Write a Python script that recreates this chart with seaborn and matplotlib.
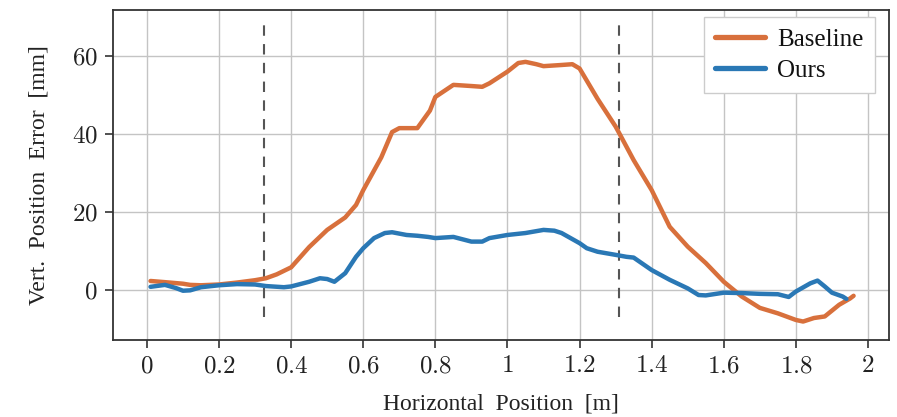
import matplotlib
matplotlib.use("Agg")
import matplotlib.pyplot as plt
import seaborn as sns
import pandas as pd

# ---- data ----
baseline_x = [0.01, 0.05, 0.10, 0.12, 0.15, 0.20, 0.25, 0.30, 0.33, 0.36, 0.40, 0.45, 0.50,
              0.55, 0.58, 0.60, 0.65, 0.68, 0.70, 0.75, 0.785, 0.80, 0.85, 0.90, 0.93, 0.95,
              1.00, 1.03, 1.05, 1.08, 1.10, 1.15, 1.18, 1.20, 1.25, 1.30, 1.31, 1.35, 1.40,
              1.45, 1.50, 1.55, 1.60, 1.65, 1.70, 1.75, 1.80, 1.82, 1.85, 1.88, 1.92, 1.95, 1.96]
baseline_y = [2.3, 2.0, 1.6, 1.3, 1.2, 1.4, 1.9, 2.5, 3.0, 4.0, 5.8, 11.0, 15.4,
              18.6, 21.8, 25.6, 34.0, 40.5, 41.5, 41.5, 46.0, 49.5, 52.6, 52.3, 52.1, 53.0,
              56.0, 58.2, 58.5, 57.9, 57.4, 57.7, 57.9, 56.8, 49.0, 41.9, 40.2, 33.3, 25.6,
              16.2, 11.1, 6.9, 2.1, -1.7, -4.6, -6.0, -7.7, -8.1, -7.2, -6.8, -3.8, -2.2, -1.5]

ours_x = [0.01, 0.05, 0.08, 0.10, 0.12, 0.15, 0.20, 0.25, 0.30, 0.33, 0.38, 0.40, 0.45,
          0.48, 0.50, 0.52, 0.55, 0.58, 0.60, 0.63, 0.66, 0.68, 0.72, 0.75, 0.78, 0.80,
          0.85, 0.90, 0.93, 0.95, 1.00, 1.05, 1.10, 1.13, 1.15, 1.20, 1.22, 1.25, 1.30,
          1.33, 1.35, 1.40, 1.45, 1.50, 1.53, 1.55, 1.60, 1.65, 1.70, 1.75, 1.78, 1.80,
          1.84, 1.86, 1.88, 1.90, 1.93, 1.94]
ours_y = [0.8, 1.3, 0.5, -0.2, -0.1, 0.7, 1.2, 1.5, 1.4, 1.0, 0.7, 0.9, 2.1,
          3.0, 2.8, 2.1, 4.3, 8.5, 10.7, 13.3, 14.6, 14.8, 14.1, 13.9, 13.6, 13.3,
          13.6, 12.4, 12.4, 13.3, 14.1, 14.6, 15.4, 15.2, 14.6, 12.0, 10.7, 9.8, 9.0,
          8.5, 8.3, 5.1, 2.6, 0.4, -1.3, -1.4, -0.7, -0.8, -1.0, -1.1, -1.8, -0.4,
          1.7, 2.4, 0.9, -0.7, -1.7, -2.3]

x_ticks = [0, 0.2, 0.4, 0.6, 0.8, 1, 1.2, 1.4, 1.6, 1.8, 2]
x_tick_labels = ["0", "0.2", "0.4", "0.6", "0.8", "1", "1.2", "1.4", "1.6", "1.8", "2"]
y_ticks = [0, 20, 40, 60]
y_tick_labels = ["0", "20", "40", "60"]
phase_lines = [0.325, 1.31]

series_names = ["Baseline", "Ours"]
colors = {"Baseline": "#d8703c", "Ours": "#2a78b5"}

df = pd.concat([
    pd.DataFrame({"x": baseline_x, "y": baseline_y, "series": "Baseline", "order": range(len(baseline_x))}),
    pd.DataFrame({"x": ours_x, "y": ours_y, "series": "Ours", "order": range(len(ours_x))}),
], ignore_index=True)

sns.set_theme(style="whitegrid")
plt.rcParams["font.family"] = ["Liberation Serif", "DejaVu Serif"]
plt.rcParams["mathtext.fontset"] = "cm"

fig = plt.figure(figsize=(8.97, 4.17), dpi=100)
ax = fig.add_axes([0.126, 0.185, 0.865, 0.791])

for x0 in phase_lines:
    ax.plot([x0, x0], [-7, 68], color="#555555", lw=1.5, ls=(0, (5, 4)), zorder=2)

sns.lineplot(data=df, x="x", y="y", hue="series", hue_order=series_names,
             palette=colors, sort=False, estimator=None, lw=3.2, ax=ax, zorder=3)

ax.set_xlim(-0.094, 2.058)
ax.set_ylim(-12.8, 71.8)
ax.set_xticks(x_ticks)
ax.set_xticklabels(["$" + t + "$" for t in x_tick_labels])
ax.set_yticks(y_ticks)
ax.set_yticklabels(["$" + t + "$" for t in y_tick_labels])

ax.grid(True, color="#c4c4c4", lw=1.0)
for s in ax.spines.values():
    s.set_color("#333333")
    s.set_linewidth(1.3)
ax.set_facecolor("white")
ax.tick_params(axis="both", which="major", direction="out", length=6, width=1.2,
               color="#333333", labelsize=18, labelcolor="#222222", pad=5,
               bottom=True, left=True)

ax.set_xlabel("Horizontal  Position  [m]", fontsize=17, color="#222222", labelpad=12)
ax.set_ylabel("Vert.  Position  Error  [mm]", fontsize=17, color="#222222", labelpad=16)

leg = ax.legend(loc="upper right", bbox_to_anchor=(0.982, 0.979), borderaxespad=0,
                fontsize=18, frameon=True, fancybox=False, edgecolor="#cccccc",
                framealpha=1, handlelength=2.0, borderpad=0.45, labelspacing=0.35,
                handletextpad=0.5)
leg.get_frame().set_linewidth(1.0)
for t in leg.get_texts():
    t.set_color("#111111")
for h in leg.get_lines():
    h.set_linewidth(3.8)

fig.savefig("out.png", dpi=100)
